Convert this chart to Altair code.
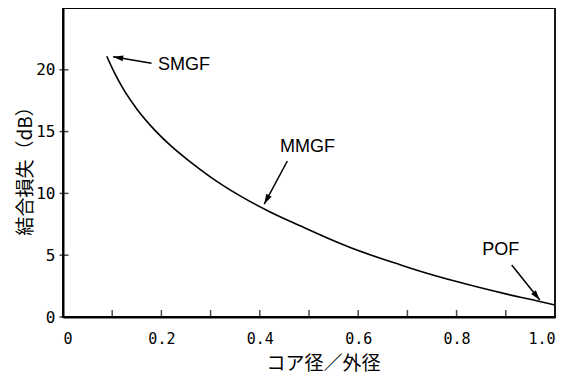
import math
import altair as alt
import pandas as pd

# curve: core diameter / outer diameter vs coupling loss (dB)
ratio = [0.089, 0.105, 0.121, 0.15, 0.187, 0.22, 0.258, 0.3, 0.36, 0.421,
         0.482, 0.536, 0.6, 0.685, 0.726, 0.8, 0.9, 0.969, 1.0]
loss = [21.1, 19.73, 18.55, 16.83, 15.1, 13.82, 12.57, 11.32, 9.8, 8.5,
        7.38, 6.42, 5.38, 4.23, 3.71, 2.87, 1.87, 1.25, 0.97]

# annotations
labels = ["SMGF", "MMGF", "POF"]
label_x = [0.193, 0.441, 0.852]
label_y = [20.39, 13.75, 5.42]
tail_x = [0.180, 0.456, 0.912]
tail_y = [20.53, 12.62, 4.21]
head_x = [0.102, 0.409, 0.969]
head_y = [21.06, 9.14, 1.38]

x_labels = [0, 0.2, 0.4, 0.6, 0.8, 1.0]
x_minor = [0.1, 0.2, 0.3, 0.4, 0.5, 0.6, 0.7, 0.8, 0.9]
y_labels = [0, 5, 10, 15, 20]

W, H = 492, 309
XMAX, YMAX = 1.0, 25.0
px_x = W / XMAX
px_y = H / YMAX

curve = pd.DataFrame({"ratio": ratio, "loss": loss})
ann = pd.DataFrame({"label": labels, "lx": label_x, "ly": label_y,
                    "tx": tail_x, "ty": tail_y, "hx": head_x, "hy": head_y})
ann["angle"] = [
    math.degrees(math.atan2((hx - tx) * px_x, (hy - ty) * px_y)) % 360
    for tx, ty, hx, hy in zip(tail_x, tail_y, head_x, head_y)
]

xs = alt.Scale(domain=[0, XMAX], nice=False, zero=False)
ys = alt.Scale(domain=[0, YMAX], nice=False, zero=False)

line = alt.Chart(curve).mark_line(color="black", strokeWidth=1.6,
                                  interpolate="monotone").encode(
    x=alt.X("ratio:Q", scale=xs, axis=alt.Axis(
        values=x_labels, labelExpr="datum.value == 0 ? '0' : format(datum.value, '.1f')",
        tickSize=0, domain=True, domainColor="black", domainWidth=2,
        grid=False, labelPadding=14,
        labelFont="DejaVu Sans Mono", labelFontSize=15, labelColor="black",
        title="コア径／外径", titleFont="Noto Sans CJK JP", titleFontSize=19,
        titleFontWeight="normal", titleColor="black",
        titleX=260, titleY=46, titleBaseline="middle", titleAnchor="middle")),
    y=alt.Y("loss:Q", scale=ys, axis=alt.Axis(
        values=y_labels, format="d", tickSize=0, domain=True,
        domainColor="black", domainWidth=2, grid=False,
        labelPadding=8, labelFont="DejaVu Sans Mono", labelFontSize=16,
        labelColor="black",
        title="結合損失（dB）", titleFont="Noto Sans CJK JP", titleFontSize=19,
        titleFontWeight="normal", titleColor="black", titleAngle=270,
        titleX=-38, titleY=158, titleBaseline="middle", titleAlign="center")),
)

xt = alt.Chart(pd.DataFrame({"v": x_minor})).mark_tick(
    color="black", thickness=1.5, size=7, yOffset=-3.5, orient="vertical").encode(
    x=alt.X("v:Q", scale=xs), y=alt.value(H))

yt = alt.Chart(pd.DataFrame({"v": y_labels})).mark_tick(
    color="black", thickness=1.5, size=9, xOffset=1, orient="horizontal").encode(
    y=alt.Y("v:Q", scale=ys), x=alt.value(0))

shafts = alt.Chart(ann).mark_rule(color="black", strokeWidth=1.5).encode(
    x=alt.X("tx:Q", scale=xs), y=alt.Y("ty:Q", scale=ys),
    x2="hx:Q", y2="hy:Q")

heads = alt.Chart(ann).mark_point(
    shape="M0,0L-0.3,1L0.3,1Z", filled=True, color="black", opacity=1,
    size=400, strokeWidth=0).encode(
    x=alt.X("hx:Q", scale=xs), y=alt.Y("hy:Q", scale=ys),
    angle=alt.Angle("angle:Q", scale=None))

texts = alt.Chart(ann).mark_text(
    align="left", baseline="middle", font="Liberation Sans", fontSize=18,
    color="black").encode(
    x=alt.X("lx:Q", scale=xs), y=alt.Y("ly:Q", scale=ys), text="label:N")

chart = alt.layer(line, xt, yt, shafts, heads, texts).properties(
    width=W, height=H,
    autosize=alt.AutoSizeParams(type="none"),
    padding={"left": 55, "top": 0, "right": 6, "bottom": 60},
    background="white",
).configure_view(stroke="black", strokeWidth=1.8)

chart.save("out.html", embed_options={"renderer": "svg", "actions": False})
